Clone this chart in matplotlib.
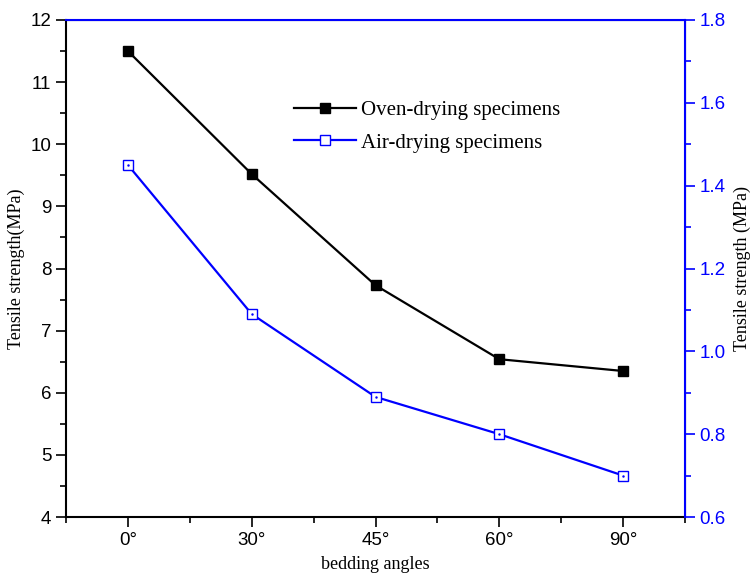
import numpy as np
import matplotlib
matplotlib.use('Agg')
import matplotlib.pyplot as plt
from matplotlib.ticker import MultipleLocator

# data
angles = ['0°', '30°', '45°', '60°', '90°']
oven = [11.50, 9.52, 7.73, 6.54, 6.35]
air = [1.45, 1.09, 0.89, 0.80, 0.70]

serif = ['Liberation Serif', 'DejaVu Serif']
sans = ['Liberation Sans', 'DejaVu Sans']

fig = plt.figure(figsize=(7.51, 5.81), dpi=100)
ax = fig.add_axes([66/751, 1-517/581, (685-66)/751, (517-20)/581])
ax2 = ax.twinx()

x = np.arange(len(angles))

l1, = ax.plot(x, oven, color='black', lw=1.6, marker='s', ms=7,
              mfc='black', mec='black', label='Oven-drying specimens')
l2, = ax2.plot(x, air, color='blue', lw=1.6, marker='s', ms=7,
               mfc='white', mec='blue', mew=1.0, label='Air-drying specimens')
# little dot inside the open squares
ax2.plot(x, air, ls='none', marker='.', ms=1.5, color='blue')

ax.set_xlim(-0.5, 4.5)
ax.set_ylim(4, 12)
ax2.set_ylim(0.6, 1.8)

ax.set_xticks(x)
ax.set_xticklabels(angles, fontsize=13.5, family=sans)
ax.xaxis.set_minor_locator(MultipleLocator(0.5))
ax.yaxis.set_major_locator(MultipleLocator(1))
ax.yaxis.set_minor_locator(MultipleLocator(0.5))
ax2.yaxis.set_major_locator(MultipleLocator(0.2))
ax2.yaxis.set_minor_locator(MultipleLocator(0.1))
ax2.yaxis.set_major_formatter(matplotlib.ticker.FormatStrFormatter('%.1f'))

ax.tick_params(axis='both', which='major', direction='out', length=7, width=1.2, labelsize=13.5)
ax.tick_params(axis='both', which='minor', direction='out', length=4, width=1.2)
ax.tick_params(axis='x', top=False)
for lab in ax.get_yticklabels():
    lab.set_family(sans)

ax2.tick_params(axis='y', which='major', direction='out', length=7, width=1.2,
                colors='blue', labelsize=13.5)
ax2.tick_params(axis='y', which='minor', direction='out', length=4, width=1.2, colors='blue')
for lab in ax2.get_yticklabels():
    lab.set_family(sans)

# blue top axis with inward ticks
ax2.tick_params(axis='x', which='major', top=True, bottom=False, labeltop=False,
                labelbottom=False, direction='in', length=7, width=1.2, colors='blue')
ax2.tick_params(axis='x', which='minor', top=True, bottom=False, direction='in',
                length=4, width=1.2, colors='blue')

for s in ['left', 'bottom']:
    ax.spines[s].set_linewidth(1.5)
ax2.spines['right'].set_color('blue')
ax2.spines['top'].set_color('blue')
ax2.spines['right'].set_linewidth(1.5)
ax2.spines['top'].set_linewidth(1.5)
ax2.spines['left'].set_visible(False)
ax2.spines['bottom'].set_visible(False)

ax.set_xlabel('bedding angles', fontsize=13, family=serif, labelpad=5)
ax.set_ylabel('Tensile strength(MPa)', fontsize=13, family=serif, labelpad=4)
ax2.set_ylabel('Tensile strength (MPa)', fontsize=13, family=serif, labelpad=6)

leg = ax.legend([l1, l2], ['Oven-drying specimens', 'Air-drying specimens'],
                loc='upper left', bbox_to_anchor=(0.338, 0.875), frameon=False,
                prop={'family': serif, 'size': 15}, handlelength=3.0,
                handletextpad=0.2, labelspacing=0.6)

plt.savefig('out.png', dpi=100)
plt.close()
